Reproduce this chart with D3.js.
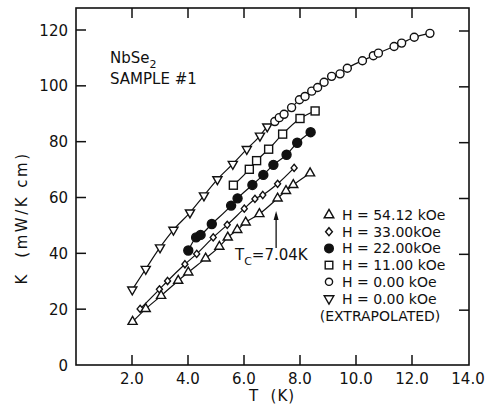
<!DOCTYPE html>
<html>
<head>
<meta charset="utf-8">
<title>NbSe2 thermal conductivity</title>
<script src="https://cdn.jsdelivr.net/npm/d3@7"></script>
<style>
*{ margin:0; padding:0; }
body{ background:#fff; }
text{ font-family:"DejaVu Sans", sans-serif; fill:#111; }
</style>
</head>
<body>
<script>
var width = 486, height = 406;

// data: T (K), K (mW/K cm)
var extrapT = [2.01, 2.49, 3.0, 3.48, 4.07, 4.57, 5.05, 5.6, 6.1, 6.57, 6.83];
var extrapK = [27.0, 34.4, 42.1, 48.4, 54.6, 60.7, 66.5, 72.0, 77.3, 82.1, 85.4];

var h0T = [7.1, 7.26, 7.43, 7.7, 7.98, 8.18, 8.42, 8.63, 8.86, 9.13, 9.43, 9.69, 10.23, 10.62, 10.8, 11.36, 11.63, 12.08, 12.64];
var h0K = [87.2, 88.6, 89.8, 92.2, 95.0, 96.2, 98.1, 99.4, 101.3, 103.4, 104.3, 106.3, 109.0, 110.8, 111.7, 114.1, 115.3, 117.4, 118.8];

var h11T = [5.62, 6.19, 6.45, 6.88, 7.38, 8.0, 8.54];
var h11K = [64.4, 70.1, 73.2, 77.3, 82.7, 88.3, 91.0];

var h22T = [4.01, 4.29, 4.45, 4.85, 5.54, 5.77, 6.3, 6.69, 7.05, 7.52, 7.9, 8.38];
var h22K = [41.0, 45.7, 46.6, 50.5, 57.1, 59.7, 64.5, 68.1, 71.7, 75.3, 79.6, 83.4];

var h33T = [2.29, 2.98, 3.27, 3.89, 4.31, 4.9, 5.4, 6.01, 6.39, 6.67, 7.2, 7.79];
var h33K = [20.1, 27.1, 30.1, 36.1, 39.8, 45.7, 50.2, 56.0, 59.5, 60.9, 64.9, 70.6];

var h54T = [2.02, 2.49, 3.04, 3.65, 4.01, 4.63, 5.12, 5.42, 5.76, 6.06, 6.55, 7.2, 7.5, 7.76, 8.36];
var h54K = [15.5, 20.1, 24.8, 30.2, 33.2, 38.2, 42.4, 45.7, 48.4, 51.1, 54.1, 59.7, 62.4, 64.5, 68.7];

var xTicks = [2, 4, 6, 8, 10, 12, 14];
var yTicks = [0, 20, 40, 60, 80, 100, 120];
var legendLabels = ["H = 54.12 kOe", "H = 33.00kOe", "H = 22.00kOe", "H = 11.00 kOe", "H = 0.00 kOe", "H = 0.00 kOe"];
var Tc = 7.04;

function pairs(ts, ks){ return ts.map(function(t, i){ return {t: t, k: ks[i]}; }); }

var svg = d3.select("body").append("svg")
	.attr("width", width).attr("height", height);

var x = d3.scaleLinear().domain([0, 14]).range([76, 468]);
var y = d3.scaleLinear().domain([0, 120]).range([365, 30]);

// frame
svg.append("rect")
	.attr("x", 76).attr("y", 8)
	.attr("width", 393).attr("height", 357)
	.attr("fill", "none").attr("stroke", "#111").attr("stroke-width", 1.6);

// ticks point inward on all four sides
var tk = 10;
var g = svg.append("g").attr("stroke", "#111").attr("stroke-width", 1.5);
xTicks.filter(function(d){ return d < 14; }).forEach(function(d){
	g.append("line").attr("x1", x(d)).attr("x2", x(d)).attr("y1", 365).attr("y2", 365 - tk);
	g.append("line").attr("x1", x(d)).attr("x2", x(d)).attr("y1", 8).attr("y2", 8 + tk);
});
yTicks.filter(function(d){ return d > 0; }).forEach(function(d){
	g.append("line").attr("x1", 76).attr("x2", 76 + tk).attr("y1", y(d)).attr("y2", y(d));
	g.append("line").attr("x1", 469).attr("x2", 469 - tk).attr("y1", y(d) + 1).attr("y2", y(d) + 1);
});

// tick labels
svg.selectAll(".xl").data(xTicks).enter().append("text")
	.attr("x", function(d){ return x(d); }).attr("y", 384)
	.attr("text-anchor", "middle").attr("font-size", 15)
	.text(function(d){ return d.toFixed(1); });
svg.selectAll(".yl").data(yTicks).enter().append("text")
	.attr("x", 68).attr("y", function(d){ return y(d) + 5.5; })
	.attr("text-anchor", "end").attr("font-size", 15)
	.text(function(d){ return d; });

// axis titles
svg.append("text").attr("x", 272).attr("y", 401).attr("text-anchor", "middle")
	.attr("font-size", 15).attr("letter-spacing", 1).attr("xml:space", "preserve").text("T  (K)");
svg.append("text").attr("transform", "translate(27,218) rotate(-90)")
	.attr("text-anchor", "middle").attr("font-size", 15).attr("letter-spacing", 2.5)
	.attr("xml:space", "preserve").text("K  (mW/K cm)");

// sample label
var t1 = svg.append("text").attr("x", 110).attr("y", 63).attr("font-size", 15);
t1.append("tspan").text("NbSe");
t1.append("tspan").attr("dy", 5).attr("font-size", 11).text("2");
svg.append("text").attr("x", 110).attr("y", 84).attr("font-size", 15).text("SAMPLE #1");

// curves
var line = d3.line()
	.x(function(d){ return x(d.t); })
	.y(function(d){ return y(d.k); })
	.curve(d3.curveMonotoneX);

var curves = [
	pairs(extrapT.concat(h0T), extrapK.concat(h0K)),
	pairs(h11T, h11K), pairs(h22T, h22K), pairs(h33T, h33K), pairs(h54T, h54K)
];
svg.selectAll(".curve").data(curves).enter().append("path")
	.attr("d", line).attr("fill", "none")
	.attr("stroke", "#111").attr("stroke-width", 1.2);

// markers
var triUp = d3.symbol().type(d3.symbolTriangle).size(36);
function drawSym(data, kind){
	var sel = svg.append("g").selectAll("path").data(data).enter();
	if(kind === "circle" || kind === "dot"){
		sel.append("circle")
			.attr("cx", function(d){ return x(d.t); }).attr("cy", function(d){ return y(d.k); })
			.attr("r", kind === "dot" ? 4.5 : 4)
			.attr("fill", kind === "dot" ? "#111" : "#fff")
			.attr("stroke", "#111").attr("stroke-width", 1.4);
	} else if(kind === "square"){
		sel.append("rect")
			.attr("x", function(d){ return x(d.t) - 4; }).attr("y", function(d){ return y(d.k) - 4; })
			.attr("width", 8).attr("height", 8)
			.attr("fill", "#fff").attr("stroke", "#111").attr("stroke-width", 1.4);
	} else {
		sel.append("path")
			.attr("d", function(){
				if(kind === "diamond") return "M0,-3.6L3,0L0,3.6L-3,0Z";
				return triUp();
			})
			.attr("transform", function(d){
				return "translate(" + x(d.t) + "," + y(d.k) + ")" + (kind === "tridown" ? " rotate(180)" : "");
			})
			.attr("fill", "#fff").attr("stroke", "#111").attr("stroke-width", 1.4);
	}
}
drawSym(pairs(extrapT, extrapK), "tridown");
drawSym(pairs(h0T, h0K), "circle");
drawSym(pairs(h11T, h11K), "square");
drawSym(pairs(h22T, h22K), "dot");
drawSym(pairs(h33T, h33K), "diamond");
drawSym(pairs(h54T, h54K), "triup");

// Tc annotation
var ax = x(Tc) + 3;
svg.append("line").attr("x1", ax).attr("x2", ax).attr("y1", 248).attr("y2", 214)
	.attr("stroke", "#111").attr("stroke-width", 1.3);
svg.append("path").attr("d", "M" + (ax - 2.5) + ",220L" + ax + ",211L" + (ax + 2.5) + ",220Z")
	.attr("fill", "#111");
var tc = svg.append("text").attr("x", 235).attr("y", 260).attr("font-size", 15);
tc.append("tspan").text("T");
tc.append("tspan").attr("dy", 5).attr("font-size", 11).text("C");
tc.append("tspan").attr("dy", -5).text("=" + Tc.toFixed(2) + "K");

// legend
var legKinds = ["triup", "diamond", "dot", "square", "circle", "tridown"];
var ly0 = 215, ldy = 16.7, lx = 329;
legKinds.forEach(function(k, i){
	var cy = ly0 + i * ldy;
	var s;
	if(k === "dot" || k === "circle"){
		s = svg.append("circle").attr("cx", lx).attr("cy", cy).attr("r", k === "dot" ? 4.3 : 3.6)
			.attr("fill", k === "dot" ? "#111" : "#fff");
	} else if(k === "square"){
		s = svg.append("rect").attr("x", lx - 3.8).attr("y", cy - 3.8).attr("width", 7.6).attr("height", 7.6).attr("fill", "#fff");
	} else if(k === "diamond"){
		s = svg.append("path").attr("d", "M0,-4L3.4,0L0,4L-3.4,0Z").attr("transform", "translate(" + lx + "," + cy + ")").attr("fill", "#fff");
	} else {
		s = svg.append("path").attr("d", d3.symbol().type(d3.symbolTriangle).size(40)())
			.attr("transform", "translate(" + lx + "," + cy + ")" + (k === "tridown" ? " rotate(180)" : "")).attr("fill", "#fff");
	}
	s.attr("stroke", "#111").attr("stroke-width", 1.4);
	svg.append("text").attr("x", 342).attr("y", cy + 5).attr("font-size", 14).text(legendLabels[i]);
});
svg.append("text").attr("x", 380).attr("y", ly0 + 6 * ldy + 5 + 1).attr("text-anchor", "middle")
	.attr("font-size", 14).text("(EXTRAPOLATED)");
</script>
</body>
</html>
